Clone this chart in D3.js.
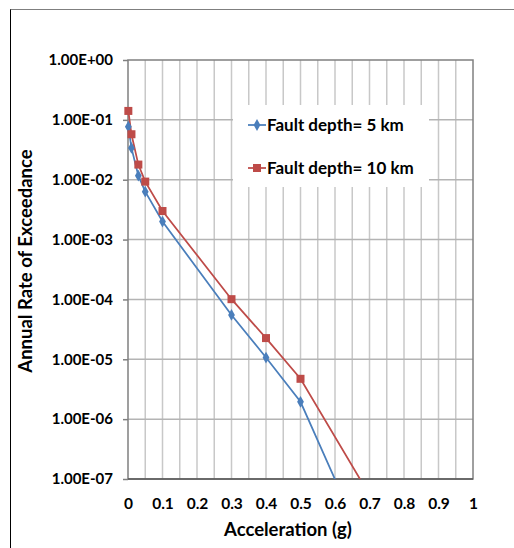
<!DOCTYPE html>
<html>
<head>
<meta charset="utf-8">
<script src="https://cdn.jsdelivr.net/npm/d3@7"></script>
<style>
  body { margin: 0; background: #fff; }
  text { font-family: Lato, "Open Sans", sans-serif; font-weight: bold; fill: #000; }
</style>
</head>
<body>
<div id="chart"></div>
<script>
// hazard curves, acceleration (g) vs annual rate of exceedance
var accel = [0.001, 0.01, 0.03, 0.05, 0.1, 0.3, 0.4, 0.5, 0.7];
var depth5 = [0.077, 0.034, 0.0117, 0.0063, 0.002, 5.5e-5, 1.07e-5, 1.95e-6, 5e-9];
var depth10 = [0.141, 0.0575, 0.0179, 0.0093, 0.003, 1.01e-4, 2.26e-5, 4.72e-6, 5.4e-8];
var seriesNames = ["Fault depth= 5 km", "Fault depth= 10 km"];
var colors = ["#4a7ebb", "#be4b48"];
var yTicks = [1, 1e-1, 1e-2, 1e-3, 1e-4, 1e-5, 1e-6, 1e-7];
var xTicks = [0, 0.1, 0.2, 0.3, 0.4, 0.5, 0.6, 0.7, 0.8, 0.9, 1];

var width = 514, height = 548;
var pLeft = 128, pRight = 473, pTop = 60, pBottom = 479;

var svg = d3.select("#chart").append("svg")
  .attr("width", width)
  .attr("height", height);

// outer frame
svg.append("rect")
  .attr("x", 10.5).attr("y", 9.5)
  .attr("width", 520).attr("height", 560)
  .attr("fill", "none")
  .attr("stroke", "#7f7f7f")
  .attr("stroke-width", 1);
svg.append("line")
  .attr("x1", 10.5).attr("x2", 10.5).attr("y1", 9.5).attr("y2", 548)
  .attr("stroke", "#000");

var x = d3.scaleLinear().domain([0, 1]).range([pLeft, pRight]);
var y = d3.scaleLog().domain([1e-7, 1]).range([pBottom, pTop]);

// vertical gridlines every 0.05
var xGrid = d3.range(1, 20).map(function(i) { return i * 0.05; });
svg.append("g").selectAll("line")
  .data(xGrid)
  .enter().append("line")
  .attr("x1", function(d) { return x(d); })
  .attr("x2", function(d) { return x(d); })
  .attr("y1", pTop).attr("y2", pBottom)
  .attr("stroke", "#c8c8c8")
  .attr("stroke-width", 1.5);

// horizontal gridlines per decade
svg.append("g").selectAll("line")
  .data(yTicks.slice(1, -1))
  .enter().append("line")
  .attr("x1", pLeft).attr("x2", pRight)
  .attr("y1", function(d) { return y(d); })
  .attr("y2", function(d) { return y(d); })
  .attr("stroke", "#b4b4b4")
  .attr("stroke-width", 1.5);

// plot border
svg.append("rect")
  .attr("x", pLeft).attr("y", pTop)
  .attr("width", pRight - pLeft).attr("height", pBottom - pTop)
  .attr("fill", "none")
  .attr("stroke", "#808080")
  .attr("stroke-width", 1.5);
svg.append("line")
  .attr("x1", pLeft).attr("x2", pRight)
  .attr("y1", pBottom).attr("y2", pBottom)
  .attr("stroke", "#595959")
  .attr("stroke-width", 1.5);

// y axis
var yAxis = d3.axisLeft(y)
  .tickValues(yTicks)
  .tickSize(5)
  .tickPadding(10)
  .tickFormat(function(d) {
    var e = Math.round(Math.log10(d));
    return "1.00E" + (e < 0 ? "-" : "+") + d3.format("02")(Math.abs(e));
  });
var gy = svg.append("g")
  .attr("transform", "translate(" + pLeft + ",0)")
  .call(yAxis);
gy.select(".domain").remove();
gy.selectAll(".tick line").attr("stroke", "#808080").attr("stroke-width", 1.5);
gy.selectAll("text").style("font-size", "15px").style("font-family", "Lato, sans-serif");

// x axis
var xAxis = d3.axisBottom(x)
  .tickValues(xTicks)
  .tickSize(0)
  .tickPadding(19)
  .tickFormat(function(d) { return d3.format("")(d); });
var gx = svg.append("g")
  .attr("transform", "translate(0," + pBottom + ")")
  .call(xAxis);
gx.select(".domain").remove();
gx.selectAll("text").style("font-size", "15.5px").style("font-family", "Lato, sans-serif");

// axis titles
svg.append("text")
  .attr("x", 288).attr("y", 536)
  .attr("text-anchor", "middle")
  .style("font-size", "18.5px")
  .text("Acceleration (g)");
svg.append("text")
  .attr("transform", "translate(32,261) rotate(-90)")
  .attr("text-anchor", "middle")
  .style("font-size", "18.5px")
  .text("Annual Rate of Exceedance");

// series
svg.append("clipPath").attr("id", "plot")
  .append("rect")
  .attr("x", pLeft - 10).attr("y", pTop - 10)
  .attr("width", pRight - pLeft + 10).attr("height", pBottom - pTop + 10);

var line = d3.line()
  .x(function(d) { return x(d[0]); })
  .y(function(d) { return y(d[1]); });

var series = [depth5, depth10].map(function(vals) {
  return accel.map(function(a, i) { return [a, vals[i]]; });
});

var plot = svg.append("g").attr("clip-path", "url(#plot)");
series.forEach(function(pts, k) {
  plot.append("path")
    .datum(pts)
    .attr("d", line)
    .attr("fill", "none")
    .attr("stroke", colors[k])
    .attr("stroke-width", 1.75);
});

var diamond = d3.symbol().type(d3.symbolDiamond).size(40);
plot.selectAll(".m5")
  .data(series[0].filter(function(d) { return d[1] >= 1e-7; }))
  .enter().append("path")
  .attr("class", "m5")
  .attr("transform", function(d) { return "translate(" + x(d[0]) + "," + y(d[1]) + ")"; })
  .attr("d", diamond)
  .attr("fill", colors[0]);

plot.selectAll(".m10")
  .data(series[1].filter(function(d) { return d[1] >= 1e-7; }))
  .enter().append("rect")
  .attr("class", "m10")
  .attr("x", function(d) { return x(d[0]) - 4; })
  .attr("y", function(d) { return y(d[1]) - 4; })
  .attr("width", 8).attr("height", 8)
  .attr("fill", colors[1]);

// legend
var legend = svg.append("g");
legend.append("rect")
  .attr("x", 233).attr("y", 105)
  .attr("width", 196).attr("height", 82)
  .attr("fill", "#fff");

seriesNames.forEach(function(name, k) {
  var ly = 125 + k * 43;
  legend.append("line")
    .attr("x1", 248).attr("x2", 266)
    .attr("y1", ly).attr("y2", ly)
    .attr("stroke", colors[k]).attr("stroke-width", 1.75);
  if (k === 0) {
    legend.append("path")
      .attr("transform", "translate(257," + ly + ")")
      .attr("d", diamond)
      .attr("fill", colors[k]);
  } else {
    legend.append("rect")
      .attr("x", 253).attr("y", ly - 4)
      .attr("width", 8).attr("height", 8)
      .attr("fill", colors[k]);
  }
  legend.append("text")
    .attr("x", 267).attr("y", ly)
    .attr("dy", "0.35em")
    .style("font-size", "17px")
    .text(name);
});
</script>
</body>
</html>
